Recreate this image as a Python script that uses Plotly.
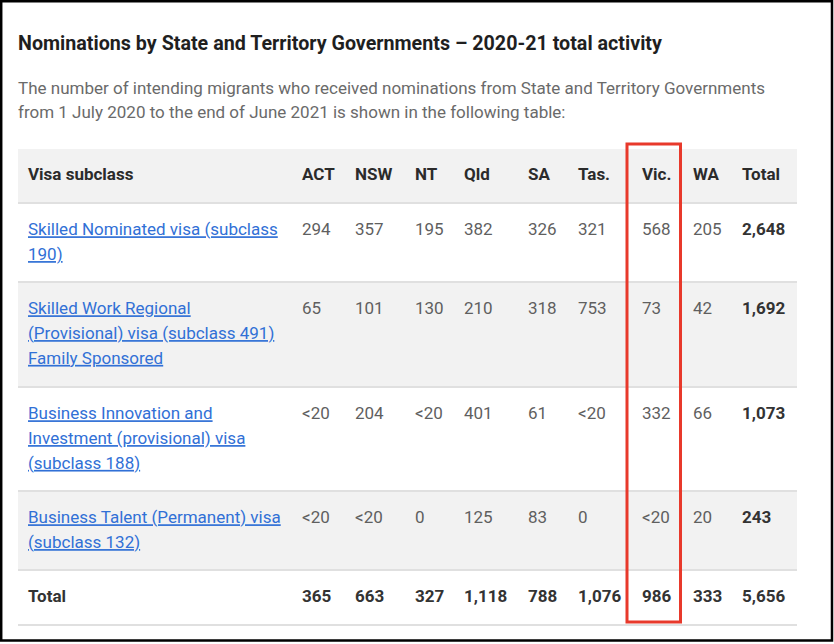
import plotly.graph_objects as go

# ---- data ----
title = "Nominations by State and Territory Governments – 2020-21 total activity"
intro_lines = [
    "The number of intending migrants who received nominations from State and Territory Governments",
    "from 1 July 2020 to the end of June 2021 is shown in the following table:",
]
header_first = "Visa subclass"
columns = ["ACT", "NSW", "NT", "Qld", "SA", "Tas.", "Vic.", "WA", "Total"]

visa_labels = [
    ["Skilled Nominated visa (subclass", "190)"],
    ["Skilled Work Regional", "(Provisional) visa (subclass 491)", "Family Sponsored"],
    ["Business Innovation and", "Investment (provisional) visa", "(subclass 188)"],
    ["Business Talent (Permanent) visa", "(subclass 132)"],
]
skilled_nominated_190 = ["294", "357", "195", "382", "326", "321", "568", "205", "2,648"]
skilled_work_regional_491 = ["65", "101", "130", "210", "318", "753", "73", "42", "1,692"]
business_innovation_188 = ["<20", "204", "<20", "401", "61", "<20", "332", "66", "1,073"]
business_talent_132 = ["<20", "<20", "0", "125", "83", "0", "<20", "20", "243"]
row_values = [skilled_nominated_190, skilled_work_regional_491, business_innovation_188, business_talent_132]
total_label = "Total"
total_values = ["365", "663", "327", "1,118", "788", "1,076", "986", "333", "5,656"]
highlight_column = "Vic."

# ---- layout constants (pixels) ----
W, H = 834, 644
TABLE_L, TABLE_R = 18, 797
LABEL_X = 28
COL_LEFT = [302, 355, 415, 464, 528, 578, 642, 693, 742]
ROW_EDGES = [149, 203, 282, 387, 491, 570, 625]  # header, 4 visa rows, total
FIRST_LINE = 28
LINE_H = 24.8
FONT = "Roboto, Arial, sans-serif"
SIZE = 17
GREY_BG = "#f2f2f2"
LINK = "#3170d6"

fig = go.Figure()

# row backgrounds and separators
shapes = [dict(type="rect", x0=TABLE_L, x1=TABLE_R, y0=ROW_EDGES[0], y1=ROW_EDGES[1],
               fillcolor=GREY_BG, line_width=0, layer="below")]
for i in range(len(row_values)):
    if i % 2 == 1:
        shapes.append(dict(type="rect", x0=TABLE_L, x1=TABLE_R, y0=ROW_EDGES[i + 1], y1=ROW_EDGES[i + 2],
                           fillcolor=GREY_BG, line_width=0, layer="below"))
for y in ROW_EDGES[1:]:
    shapes.append(dict(type="line", x0=TABLE_L, x1=TABLE_R, y0=y, y1=y,
                       line=dict(color="#e0e0e0", width=2), layer="below"))

# highlight box around the Vic. column
hx = COL_LEFT[columns.index(highlight_column)]
shapes.append(dict(type="rect", x0=hx - 15, x1=hx + 38.5, y0=144, y1=622,
                   line=dict(color="#e8392b", width=3)))
# outer frame
shapes.append(dict(type="rect", x0=1.2, x1=832, y0=1.2, y1=640.5,
                   line=dict(color="#000000", width=2.5)))

# header
header_y = (ROW_EDGES[0] + ROW_EDGES[1]) / 2 - 0.5
fig.add_trace(go.Scatter(
    x=[LABEL_X] + COL_LEFT, y=[header_y] * (len(columns) + 1),
    text=[header_first] + columns, mode="text", textposition="middle right",
    textfont=dict(family=FONT, size=SIZE, color="#2b2b2b", weight="bold"),
    hoverinfo="skip",
))

# visa rows
for i, (labels, vals) in enumerate(zip(visa_labels, row_values)):
    top = ROW_EDGES[i + 1] + FIRST_LINE
    fig.add_trace(go.Scatter(
        x=[LABEL_X] * len(labels), y=[top + k * LINE_H for k in range(len(labels))],
        text=labels, mode="text", textposition="middle right",
        textfont=dict(family=FONT, size=SIZE, color=LINK, lineposition="under"),
        hoverinfo="skip",
    ))
    fig.add_trace(go.Scatter(
        x=COL_LEFT[:-1], y=[top] * (len(vals) - 1),
        text=vals[:-1], mode="text", textposition="middle right",
        textfont=dict(family=FONT, size=SIZE, color="#5f5f5f"),
        hoverinfo="skip",
    ))
    fig.add_trace(go.Scatter(
        x=COL_LEFT[-1:], y=[top],
        text=vals[-1:], mode="text", textposition="middle right",
        textfont=dict(family=FONT, size=SIZE, color="#333333", weight="bold"),
        hoverinfo="skip",
    ))

# total row
total_y = ROW_EDGES[-2] + FIRST_LINE
fig.add_trace(go.Scatter(
    x=[LABEL_X] + COL_LEFT, y=[total_y] * (len(total_values) + 1),
    text=[total_label] + total_values, mode="text", textposition="middle right",
    textfont=dict(family=FONT, size=SIZE, color="#333333", weight="bold"),
    hoverinfo="skip",
))

annotations = [dict(x=16, y=43, xref="x", yref="y", text=title, showarrow=False,
                    xanchor="left", yanchor="middle",
                    font=dict(family=FONT, size=19.7, color="#1f1f1f", weight="bold"))]
for k, line in enumerate(intro_lines):
    annotations.append(dict(x=16, y=87.5 + k * 24, xref="x", yref="y", text=line, showarrow=False,
                            xanchor="left", yanchor="middle",
                            font=dict(family=FONT, size=SIZE, color="#6a6a6a")))

fig.update_layout(
    width=W, height=H,
    margin=dict(t=0, r=0, b=0, l=0),
    paper_bgcolor="white", plot_bgcolor="white",
    showlegend=False,
    xaxis=dict(range=[0, W], visible=False, fixedrange=True),
    yaxis=dict(range=[H, 0], visible=False, fixedrange=True),
    shapes=shapes,
    annotations=annotations,
)

# the page body has an 8px default margin; drop it so the figure fills the window
fig.write_html("out.html", config={"displayModeBar": False},
               post_script="document.body.style.margin = '0';")
